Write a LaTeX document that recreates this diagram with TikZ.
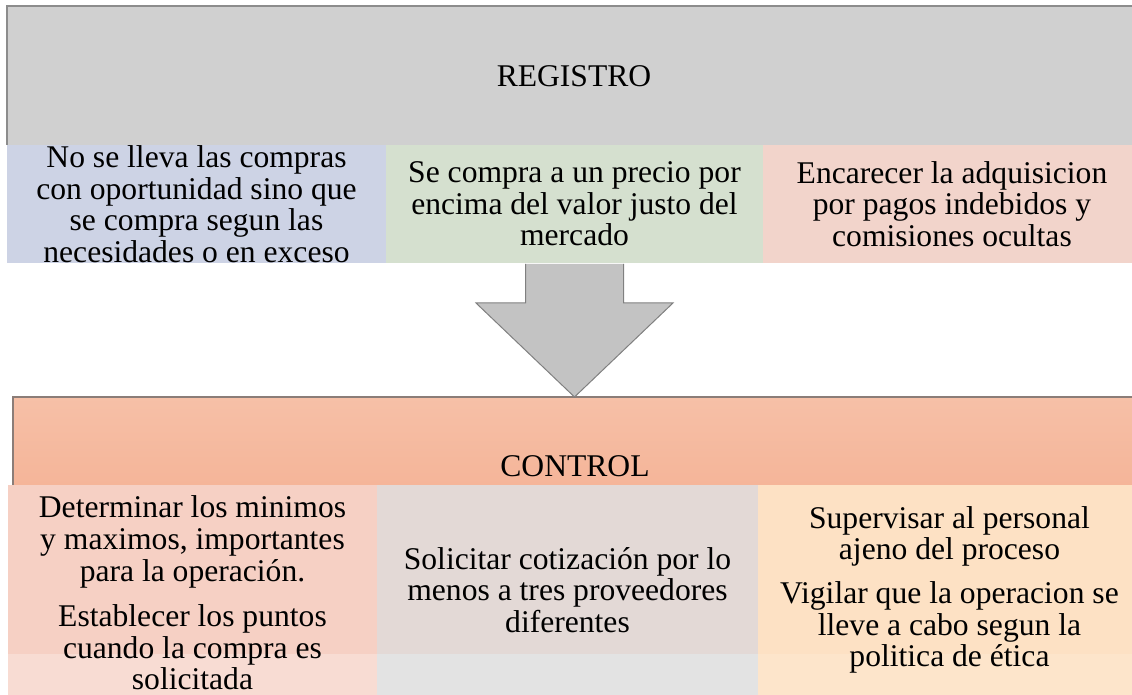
\documentclass[tikz,border=0pt]{standalone}
\usepackage{fontspec}
\setmainfont{Liberation Serif}
\usetikzlibrary{calc}

\definecolor{regHead}{HTML}{D0D0D0}
\definecolor{regLine}{HTML}{8C8C8C}
\definecolor{regA}{HTML}{CDD3E5}
\definecolor{regB}{HTML}{D5E0CF}
\definecolor{regC}{HTML}{F2D4CB}
\definecolor{arrowFill}{HTML}{C3C3C3}
\definecolor{arrowLine}{HTML}{808080}
\definecolor{ctlTop}{HTML}{F6C0A7}
\definecolor{ctlBot}{HTML}{F5B599}
\definecolor{ctlLine}{HTML}{8B7D78}
\definecolor{ctlA}{HTML}{F6D0C4}
\definecolor{ctlAlow}{HTML}{F8DCD3}
\definecolor{ctlB}{HTML}{E3D9D6}
\definecolor{ctlBlow}{HTML}{E3E3E3}
\definecolor{ctlC}{HTML}{FDE1C4}
\definecolor{ctlClow}{HTML}{FDE5CB}

\tikzset{
  cell/.style={anchor=north west, inner sep=0pt, outer sep=0pt},
  txt/.style={align=center, inner sep=0pt, font=\fontsize{15.8pt}{15.8pt}\selectfont},
  blockarrow/.style={fill=arrowFill, draw=arrowLine, line width=0.5pt, line join=miter}
}

\begin{document}
\begin{tikzpicture}[x=0.5pt, y=-0.5pt]
  \useasboundingbox (0,0) rectangle (1132,695);

  \node[cell, fill=regHead, minimum width=567pt, minimum height=69.5pt] (reg) at (7,6) {};
  \draw[regLine, line width=0.6pt] (reg.south west) -- (reg.north west) -- (reg.north east);
  \node[txt] (regtitle) at (574,76) {REGISTRO};

  \node[cell, fill=regA, minimum width=189.5pt, minimum height=59pt] (reg1) at (7,145) {};
  \node[cell, fill=regB, minimum width=188.5pt, minimum height=59pt] (reg2) at (386,145) {};
  \node[cell, fill=regC, minimum width=189pt, minimum height=59pt] (reg3) at (763,145) {};
  \node[txt] (t1) at (reg1.center) {No se lleva las compras\\con oportunidad sino que\\se compra segun las\\necesidades o en exceso};
  \node[txt] (t2) at (reg2.center) {Se compra a un precio por\\encima del valor justo del\\mercado};
  \node[txt] (t3) at (reg3.center) {Encarecer la adquisicion\\por pagos indebidos y\\comisiones ocultas};

  \node[cell, top color=ctlTop, bottom color=ctlBot, minimum width=566pt, minimum height=44pt] (ctl) at (13,397) {};
  \draw[ctlLine, line width=0.6pt] (ctl.south west) -- (ctl.north west) -- (ctl.north east);
  \node[txt] (ctltitle) at (575,466) {CONTROL};

  \coordinate (tip) at (reg2.south |- ctl.north);
  \draw[blockarrow] ($(reg2.south)+(-49,1)$) -- ++(0,39) -- ++(-49.5,0) -- (tip) -- ++(98.5,-94) -- ++(-49.5,0) -- ++(0,-39);

  \node[cell, fill=ctlAlow, minimum width=184.5pt, minimum height=105pt] (c1) at (8,485) {};
  \node[cell, fill=ctlBlow, minimum width=190.5pt, minimum height=105pt] (c2) at (377,485) {};
  \node[cell, fill=ctlClow, minimum width=191.5pt, minimum height=105pt] (c3) at (758,485) {};
  \fill[ctlA] (c1.north west) rectangle (377,654);
  \fill[ctlB] (c2.north west) rectangle (758,654);
  \fill[ctlC] (c3.north west) rectangle (1141,654);

  \node[txt] (u1) at ($(c1.center)+(0,3)$) {Determinar los minimos\\y maximos, importantes\\para la operación.\\[7pt]Establecer los puntos\\cuando la compra es\\solicitada};
  \node[txt] (u2) at (c2.center) {Solicitar cotización por lo\\menos a tres proveedores\\diferentes};
  \node[txt] (u3) at (c3.center) {Supervisar al personal\\ajeno del proceso\\[6pt]Vigilar que la operacion se\\lleve a cabo segun la\\politica de ética};
\end{tikzpicture}
\end{document}
